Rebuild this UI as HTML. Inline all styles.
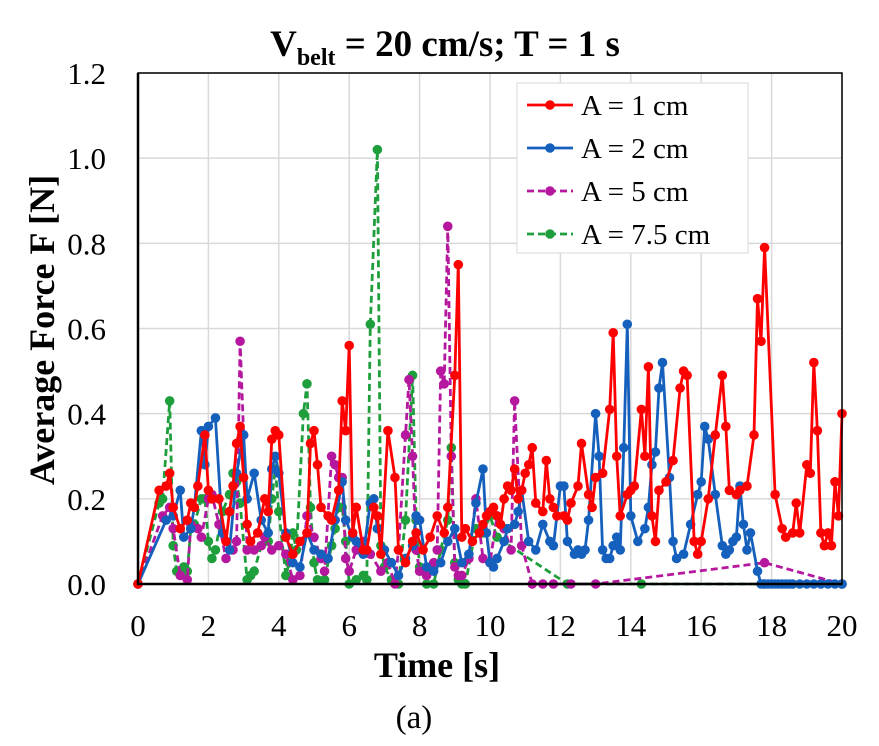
<!DOCTYPE html>
<html><head><meta charset="utf-8"><style>
html,body{margin:0;padding:0;background:#fff;}
svg{display:block;font-family:"Liberation Serif",serif;}
</style></head><body>
<svg id="chart" width="879" height="746" viewBox="0 0 879 746">
<text x="445" y="56" text-anchor="middle" font-size="37" font-weight="bold">V<tspan font-size="24" dy="9">belt</tspan><tspan dy="-9"> = 20 cm/s; T = 1 s</tspan></text>
<g id="grid"></g>
<g id="series"></g>
<rect x="138" y="73" width="704" height="511" fill="none" stroke="#000" stroke-width="1.5"/>
<line x1="138" y1="73" x2="138" y2="585" stroke="#000" stroke-width="2.5"/>
<line x1="137" y1="584" x2="842" y2="584" stroke="#000" stroke-width="2.5"/>
<g id="ticks" font-size="31"></g>
<text x="437" y="677" text-anchor="middle" font-size="36" font-weight="bold">Time [s]</text>
<text transform="translate(54,330) rotate(-90)" text-anchor="middle" font-size="36" font-weight="bold">Average Force F [N]</text>
<text x="414" y="728" text-anchor="middle" font-size="33">(a)</text>
<g>
<rect x="517" y="83" width="231" height="170" fill="#fff" stroke="#d9d9d9" stroke-width="1"/>
<g id="legend"></g>
</g>
</svg>
<script>
const xTicks=[0,2,4,6,8,10,12,14,16,18,20];
const yTicks=[0,0.2,0.4,0.6,0.8,1.0,1.2];
const yTickLabels=["0.0","0.2","0.4","0.6","0.8","1.0","1.2"];
const seriesNames=["A = 1 cm","A = 2 cm","A = 5 cm","A = 7.5 cm"];
const redT=[0,0.6,0.8,0.9,1.0,1.2,1.4,1.5,1.6,1.7,1.9,2.0,2.1,2.3,2.5,2.6,2.7,2.8,2.9,3.0,3.1,3.2,3.4,3.6,3.7,3.8,3.9,4.0,4.2,4.4,4.6,4.8,4.9,5.0,5.1,5.2,5.4,5.5,5.7,5.8,5.9,6.0,6.1,6.2,6.4,6.5,6.7,6.8,6.9,7.1,7.3,7.4,7.6,7.8,7.9,8.1,8.3,8.5,8.7,8.8,9.0,9.1,9.2,9.3,9.5,9.7,9.8,9.9,10.0,10.1,10.2,10.3,10.4,10.5,10.6,10.7,10.8,10.9,11.0,11.1,11.2,11.3,11.5,11.6,11.7,11.8,11.9,12.1,12.2,12.3,12.5,12.6,12.8,12.9,13.0,13.2,13.4,13.5,13.6,13.7,13.9,14.0,14.1,14.3,14.4,14.5,14.6,14.7,14.8,15.0,15.2,15.4,15.5,15.6,15.8,15.9,16.0,16.2,16.4,16.6,16.7,16.8,17.0,17.1,17.3,17.5,17.6,17.7,17.8,18.1,18.3,18.4,18.6,18.7,18.8,19.0,19.1,19.2,19.3,19.4,19.5,19.6,19.7,19.8,19.9,20.0];
const redV=[0,0.22,0.23,0.26,0.18,0.13,0.15,0.19,0.18,0.23,0.35,0.22,0.2,0.2,0.1,0.17,0.23,0.33,0.37,0.25,0.14,0.1,0.12,0.2,0.17,0.34,0.36,0.35,0.11,0.07,0.1,0.12,0.33,0.36,0.28,0.18,0.16,0.15,0.22,0.43,0.36,0.56,0.12,0.18,0.08,0.08,0.18,0.16,0.07,0.36,0.25,0.08,0.05,0.1,0.12,0.08,0.11,0.16,0.12,0.18,0.49,0.75,0.11,0.13,0.1,0.12,0.14,0.16,0.17,0.18,0.16,0.14,0.2,0.23,0.22,0.27,0.2,0.22,0.26,0.28,0.32,0.19,0.17,0.29,0.2,0.18,0.16,0.16,0.15,0.19,0.23,0.33,0.21,0.18,0.25,0.26,0.41,0.59,0.3,0.16,0.21,0.22,0.23,0.41,0.3,0.51,0.16,0.1,0.22,0.24,0.29,0.46,0.5,0.49,0.1,0.07,0.1,0.2,0.35,0.49,0.37,0.22,0.21,0.22,0.23,0.35,0.67,0.57,0.79,0.21,0.13,0.11,0.12,0.19,0.12,0.28,0.26,0.52,0.36,0.12,0.09,0.12,0.09,0.24,0.16,0.4,0.12];
const blueT=[0,0.8,1.0,1.2,1.3,1.5,1.6,1.8,1.9,2.0,2.2,2.4,2.6,2.8,3.0,3.1,3.3,3.5,3.7,3.8,3.9,4.0,4.2,4.4,4.6,4.8,5.0,5.2,5.4,5.6,5.8,5.9,6.1,6.2,6.4,6.6,6.7,6.8,7.0,7.2,7.4,7.6,7.8,7.9,8.0,8.2,8.4,8.6,8.8,9.0,9.2,9.4,9.6,9.8,9.9,10.0,10.1,10.2,10.4,10.5,10.7,10.8,10.9,11.1,11.3,11.5,11.7,11.8,12.0,12.1,12.2,12.4,12.5,12.6,12.7,12.8,13.0,13.1,13.2,13.3,13.4,13.5,13.6,13.7,13.8,13.9,14.0,14.2,14.4,14.5,14.6,14.7,14.8,14.9,15.1,15.2,15.3,15.5,15.7,15.9,16.0,16.1,16.2,16.4,16.6,16.7,16.8,16.9,17.0,17.1,17.2,17.3,17.4,17.6,17.7,17.8,17.9,18.0,18.1,18.2,18.3,18.4,18.5,18.6,18.8,19.0,19.2,19.4,19.6,19.8,20.0];
const blueV=[0,0.15,0.16,0.22,0.11,0.13,0.18,0.36,0.28,0.37,0.39,0.12,0.08,0.26,0.35,0.2,0.26,0.15,0.12,0.27,0.3,0.26,0.12,0.05,0.04,0.12,0.08,0.07,0.06,0.15,0.24,0.15,0.11,0.1,0.07,0.19,0.2,0.13,0.08,0.05,0.02,0.06,0.09,0.16,0.15,0.04,0.03,0.05,0.1,0.13,0.05,0.07,0.19,0.27,0.12,0.05,0.04,0.06,0.1,0.13,0.14,0.17,0.22,0.1,0.08,0.14,0.1,0.09,0.23,0.23,0.1,0.07,0.08,0.07,0.08,0.15,0.4,0.3,0.08,0.06,0.06,0.09,0.11,0.08,0.32,0.61,0.16,0.1,0.13,0.18,0.28,0.31,0.46,0.52,0.25,0.1,0.06,0.07,0.14,0.21,0.24,0.37,0.34,0.21,0.09,0.07,0.08,0.1,0.11,0.23,0.14,0.08,0.12,0.03,0,0,0,0,0,0,0,0,0,0,0,0,0,0,0,0,0];
const magT=[0,0.7,0.9,1.0,1.2,1.4,1.5,1.7,1.8,2.0,2.1,2.3,2.5,2.7,2.8,2.9,3.0,3.1,3.3,3.5,3.6,3.8,4.0,4.2,4.4,4.6,4.8,5.0,5.2,5.3,5.5,5.6,5.7,5.8,5.9,6.0,6.2,6.4,6.6,6.9,7.1,7.3,7.4,7.6,7.7,7.8,7.9,8.0,8.2,8.4,8.5,8.6,8.7,8.8,8.9,9.0,9.1,9.2,9.4,9.6,9.8,10.0,10.2,10.4,10.6,10.7,10.9,11.2,11.5,11.8,12.3,13.0,17.8,20.0];
const magV=[0,0.16,0.18,0.13,0.02,0.01,0.14,0.13,0.11,0.2,0.21,0.14,0.06,0.08,0.1,0.57,0.35,0.08,0.08,0.09,0.11,0.08,0.09,0.07,0.01,0.02,0.16,0.11,0.06,0.03,0.3,0.28,0.25,0.25,0.06,0.03,0.08,0.1,0.07,0.03,0.05,0,0.08,0.35,0.48,0.3,0.08,0.03,0.02,0.05,0.08,0.5,0.47,0.84,0.3,0.04,0.02,0.02,0.06,0.2,0.06,0.05,0.16,0.13,0.08,0.43,0.09,0,0,0,0,0,0.05,0];
const grnT=[0,0.6,0.7,0.9,1.0,1.1,1.3,1.4,1.5,1.6,1.8,1.9,2.0,2.1,2.2,2.4,2.6,2.7,2.8,2.9,3.1,3.2,3.3,3.5,3.7,3.8,3.9,4.0,4.2,4.3,4.4,4.5,4.7,4.8,4.9,5.0,5.1,5.3,5.5,5.6,5.7,5.8,5.9,6.0,6.2,6.4,6.5,6.6,6.8,6.9,7.0,7.2,7.4,7.6,7.8,7.9,8.0,8.2,8.4,8.6,8.8,8.9,9.0,9.1,9.2,9.3,9.6,9.8,10.0,10.2,12.2,14.3,17.8,20.0];
const grnV=[0,0.19,0.2,0.43,0.09,0.03,0.04,0.03,0.13,0.14,0.2,0.2,0.1,0.06,0.08,0.17,0.21,0.26,0.24,0.19,0.01,0.02,0.03,0.09,0.1,0.2,0.27,0.17,0.02,0.05,0.12,0.08,0.4,0.47,0.18,0.05,0.01,0.01,0.09,0.13,0.18,0.18,0.1,0,0.01,0.02,0.01,0.61,1.02,0.09,0.04,0.01,0,0.15,0.49,0.15,0.04,0,0,0.08,0.15,0.32,0.05,0.01,0,0,0.13,0.12,0.16,0.11,0,0,0,0];
const NS="http://www.w3.org/2000/svg";
const X0=138,X1=842,Y0=584,Y1=73;
function xs(t){return X0+(t/20)*(X1-X0);}
function ys(v){return Y0-(v/1.2)*(Y0-Y1);}
function mk(tag,attrs,parent){const e=document.createElementNS(NS,tag);for(const k in attrs)e.setAttribute(k,attrs[k]);parent.appendChild(e);return e;}
const grid=document.getElementById('grid'),ticks=document.getElementById('ticks'),ser=document.getElementById('series'),leg=document.getElementById('legend');
xTicks.forEach(t=>{
  const l=mk('line',{x1:xs(t),x2:xs(t),y1:Y1,y2:Y0,stroke:'#d9d9d9','stroke-width':1.5},grid);
  
  
  const tx=mk('text',{x:xs(t),y:Y0+52,'text-anchor':'middle'},ticks);tx.textContent=t;
  
  
});
yTicks.forEach((v,i)=>{
  const l=mk('line',{x1:X0,x2:X1,y1:ys(v),y2:ys(v),stroke:'#d9d9d9','stroke-width':1.5},grid);
  
  
  const tx=mk('text',{x:X0-32,y:ys(v)+11,'text-anchor':'end'},ticks);tx.textContent=yTickLabels[i];
  
  
});
const cols=['#ff0000','#1560bd','#b5179e','#1f9e3c'];
const dashes=['none','none','7,4','7,4'];
const allT=[redT,blueT,magT,grnT],allV=[redV,blueV,magV,grnV];
const sNames=['series-a1','series-a2','series-a5','series-a7-5'];
[3,2,1,0].forEach(i=>{
  const g=mk('g',{},ser);
  
  
  const T=allT[i],V=allV[i];
  const d=T.map((t,j)=>(j?'L':'M')+xs(t).toFixed(1)+','+ys(V[j]).toFixed(1)).join('');
  const p=mk('path',{d:d,fill:'none',stroke:cols[i],'stroke-width':2.8,'stroke-dasharray':dashes[i],'stroke-linejoin':'round'},g);
  
  
  T.forEach((t,j)=>{
    const c=mk('circle',{cx:xs(t),cy:ys(V[j]),r:4.8,fill:cols[i]},g);
    
    
  });
});
seriesNames.forEach((n,i)=>{
  const y=105+i*43;
  const g=mk('g',{},leg);
  
  
  mk('line',{x1:527,x2:573,y1:y,y2:y,stroke:cols[i],'stroke-width':2.8,'stroke-dasharray':dashes[i]},g);
  mk('circle',{cx:550,cy:y,r:4.8,fill:cols[i]},g);
  const tx=mk('text',{x:581,y:y+10,'font-size':29},g);tx.textContent=n;
});
</script>
</body></html>
